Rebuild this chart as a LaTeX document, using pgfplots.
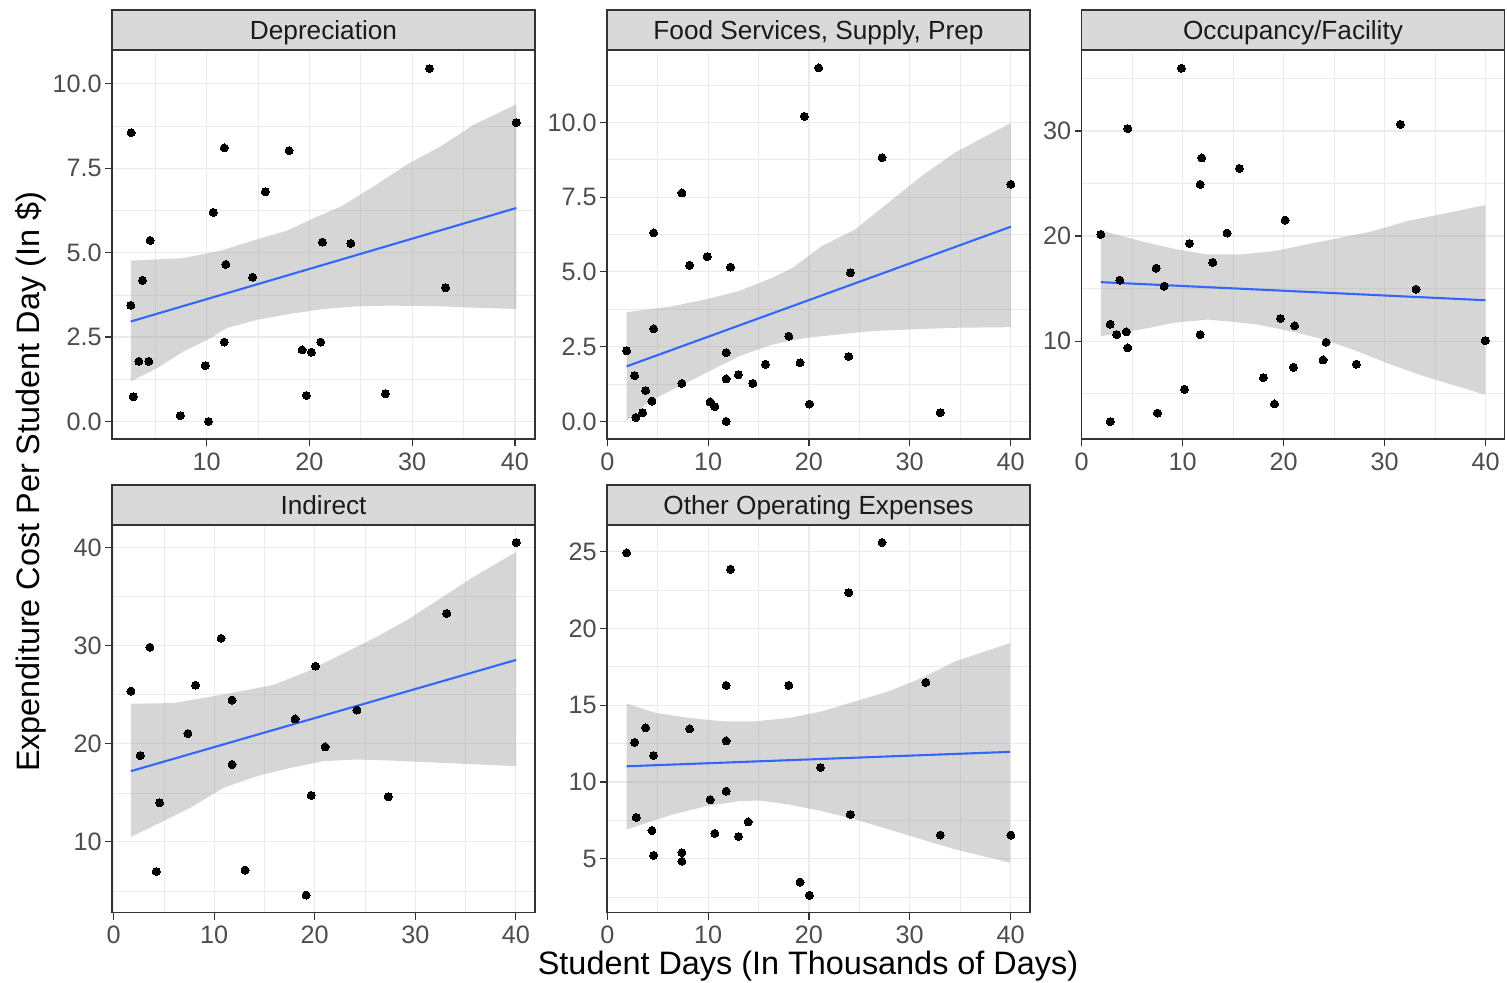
\documentclass[border=0pt]{standalone}
\usepackage{fontspec}
\setmainfont{Liberation Sans}
\usepackage{pgfplots}
\pgfplotsset{compat=1.18}
\definecolor{gtwenty}{HTML}{333333}
\definecolor{gninetytwo}{HTML}{EBEBEB}
\definecolor{gthirty}{HTML}{4D4D4D}
\definecolor{geightyfive}{HTML}{D9D9D9}
\definecolor{gten}{HTML}{1A1A1A}
\definecolor{gsixty}{HTML}{999999}
\definecolor{ggblue}{HTML}{3366FF}
\newcommand{\tickfont}{\fontsize{12.6}{15}\selectfont}
\newcommand{\stripfont}{\fontsize{13.1}{15}\selectfont}
\newcommand{\titlefont}{\fontsize{16.2}{19}\selectfont}
\pgfplotsset{
  facet/.style={
    scale only axis, width=211.5pt, anchor=south west,
    axis line style={color=gtwenty, line width=0.8pt},
    tick pos=left, tick align=outside,
    major tick length=3.5pt, minor tick length=0pt,
    tick style={color=gtwenty, line width=0.6pt},
    grid=both,
    major grid style={color=gninetytwo, line width=0.6pt},
    minor grid style={color=gninetytwo, line width=0.3pt},
    tick label style={color=gthirty, font=\tickfont},
    yticklabel style={inner sep=1.5pt},
    xticklabel style={inner sep=3pt},
    /pgf/number format/assume math mode=true,
    xtick={0,10,20,30,40}, minor xtick={5,15,25,35},
  },
  pts/.style={only marks, mark=*, mark size=2pt, mark options={fill=black, draw=black, line width=0pt}},
  band/.style={draw=none, fill=gsixty, fill opacity=0.4},
  fit/.style={color=ggblue, line width=1.05pt, no marks},
}
\tikzset{
  strip/.style={fill=geightyfive, draw=gtwenty, line width=0.8pt},
  striptext/.style={anchor=base, font=\stripfont, text=gten},
}
\begin{document}
\begin{tikzpicture}
\useasboundingbox (0,0) rectangle (753.5pt,491pt);

% ---------- Depreciation ----------
\begin{axis}[facet, name=p1, at={(56pt,271.5pt)}, height=194.5pt,
  xmin=0.8, xmax=41.95, ymin=-0.52, ymax=11.0,
  xtick={10,20,30,40},
  ytick={0,2.5,5,7.5,10}, yticklabels={0.0,2.5,5.0,7.5,10.0},
  minor ytick={1.25,3.75,6.25,8.75}]
\addplot[pts] coordinates {(2.66,8.55)(2.63,3.44)(3.77,4.18)(3.41,1.78)(4.38,1.78)(2.86,0.73)(4.51,5.36)(7.44,0.17)(9.87,1.65)(10.19,0.0)(10.65,6.19)(11.72,8.10)(11.88,4.65)(11.72,2.35)(14.48,4.27)(15.71,6.80)(18.02,8.02)(19.29,2.12)(20.19,2.05)(19.71,0.77)(21.1,2.35)(21.27,5.31)(24.03,5.27)(27.4,0.82)(31.69,10.45)(33.25,3.96)(40.13,8.85)};
\addplot[band] coordinates {(2.63,4.76)(7.8,4.84)(11.4,5.06)(14.9,5.39)(17.9,5.66)(20.5,6.03)(23.1,6.37)(26.3,6.97)(29.5,7.61)(32.8,8.15)(36.0,8.79)(40.13,9.39)
(40.13,3.33)(36.0,3.37)(32.8,3.41)(27.9,3.43)(24.7,3.41)(21.4,3.33)(18.2,3.19)(14.9,3.01)(12.0,2.77)(10.1,2.42)(7.8,2.08)(5.2,1.58)(2.63,1.19)};
\addplot[fit] coordinates {(2.63,2.96)(40.13,6.32)};
\end{axis}
\draw[strip] (p1.north west) rectangle ([yshift=20pt]p1.north east);
\node[striptext] at ([yshift=5.4pt]p1.north) {Depreciation};

% ---------- Food ----------
\begin{axis}[facet, name=p2, at={(303.5pt,271.5pt)}, height=194.5pt,
  xmin=-0.03, xmax=41.93, ymin=-0.59, ymax=12.42,
  ytick={0,2.5,5,7.5,10}, yticklabels={0.0,2.5,5.0,7.5,10.0},
  minor ytick={1.25,3.75,6.25,8.75,11.25}]
\addplot[pts] coordinates {(1.92,2.36)(2.71,1.53)(2.84,0.13)(3.50,0.29)(3.80,1.03)(4.43,0.68)(4.59,3.09)(4.59,6.30)(7.40,7.64)(7.40,1.27)(8.16,5.22)(9.91,5.51)(10.2,0.65)(10.67,0.49)(11.79,0.0)(11.79,1.42)(11.79,2.30)(12.22,5.16)(13.01,1.56)(14.43,1.27)(15.69,1.91)(18.0,2.85)(19.12,1.96)(19.55,10.2)(20.05,0.58)(20.97,11.82)(23.94,2.17)(24.11,4.97)(27.25,8.82)(33.03,0.29)(40.03,7.93)};
\addplot[band] coordinates {(1.92,3.65)(6.47,3.85)(9.78,4.08)(13.08,4.36)(16.38,4.80)(18.4,5.14)(21.3,5.87)(24.6,6.42)(27.9,7.32)(31.2,8.21)(34.5,8.99)(40.03,9.98)
(40.03,3.15)(34.5,3.13)(29.6,3.07)(26.3,3.02)(23,2.91)(19.7,2.79)(16.38,2.57)(13.08,2.18)(9.78,1.62)(6.47,1.06)(4.16,0.67)(1.92,0.03)};
\addplot[fit] coordinates {(1.92,1.84)(40.03,6.51)};
\end{axis}
\draw[strip] (p2.north west) rectangle ([yshift=20pt]p2.north east);
\node[striptext] at ([yshift=5.4pt]p2.north) {Food Services, Supply, Prep};

% ---------- Occupancy ----------
\begin{axis}[facet, name=p3, at={(540.75pt,271.5pt)}, height=194.5pt,
  xmin=0.0, xmax=41.86, ymin=0.7, ymax=37.7,
  ytick={10,20,30}, minor ytick={5,15,25,35}]
\addplot[pts] coordinates {(1.91,20.16)(2.84,11.62)(2.84,2.35)(3.49,10.63)(3.79,15.81)(4.42,10.89)(4.58,9.37)(4.58,30.22)(7.39,16.95)(7.52,3.17)(8.18,15.24)(9.89,35.97)(10.19,5.43)(10.68,19.30)(11.74,10.63)(11.74,24.92)(11.9,27.43)(12.99,17.49)(14.41,20.29)(15.63,26.44)(18.0,6.54)(19.09,4.03)(19.68,12.16)(20.15,21.52)(20.97,7.52)(21.1,11.46)(23.9,8.22)(24.2,9.90)(27.2,7.81)(31.55,30.63)(33.1,14.95)(39.96,10.06)};
\addplot[band] coordinates {(1.91,20.54)(5.84,19.52)(9.13,18.79)(12.43,18.25)(15.73,18.25)(19.02,18.57)(22.3,19.21)(25.6,19.84)(28.9,20.48)(32.2,21.43)(35.5,22.06)(39.96,22.95)
(39.96,4.92)(37.2,5.71)(33.9,6.67)(30.6,7.78)(27.3,9.05)(24,10.16)(20.7,10.95)(17.4,11.59)(14.4,11.9)(12.43,12.06)(9.13,11.75)(5.84,11.11)(1.91,10.48)};
\addplot[fit] coordinates {(1.91,15.62)(39.96,13.90)};
\end{axis}
\draw[strip] (p3.north west) rectangle ([yshift=20pt]p3.north east);
\node[striptext] at ([yshift=5.4pt]p3.north) {Occupancy/Facility};

% ---------- Indirect ----------
\begin{axis}[facet, name=p4, at={(56pt,34.75pt)}, height=193.75pt,
  xmin=-0.15, xmax=41.9, ymin=2.8, ymax=42.3,
  ytick={10,20,30,40}, minor ytick={5,15,25,35}]
\addplot[pts] coordinates {(1.73,25.37)(2.66,18.80)(3.62,29.84)(4.25,6.98)(4.58,13.99)(7.40,21.04)(8.16,25.98)(10.69,30.75)(11.78,24.46)(11.78,17.89)(13.08,7.12)(18.05,22.53)(19.15,4.58)(19.65,14.74)(20.08,27.91)(21.04,19.68)(24.19,23.44)(27.31,14.6)(33.12,33.29)(40.03,40.51)};
\addplot[band] coordinates {(1.73,24.08)(5.97,24.15)(9.29,24.73)(12.6,25.34)(15.93,26.01)(19.25,27.37)(22.57,29.06)(25.9,30.76)(29.2,32.62)(32.5,34.82)(35.8,37.02)(40.03,39.56)
(40.03,17.72)(32.5,18.06)(27.5,18.29)(24.2,18.4)(20.9,18.23)(17.6,17.55)(14.27,16.7)(10.95,15.52)(7.63,13.48)(4.31,11.79)(1.73,10.5)};
\addplot[fit] coordinates {(1.73,17.21)(40.03,28.55)};
\end{axis}
\draw[strip] (p4.north west) rectangle ([yshift=20pt]p4.north east);
\node[striptext] at ([yshift=5.4pt]p4.north) {Indirect};

% ---------- Other Operating ----------
\begin{axis}[facet, name=p5, at={(303.5pt,34.75pt)}, height=193.75pt,
  xmin=-0.03, xmax=41.93, ymin=1.5, ymax=26.73,
  ytick={5,10,15,20,25}, minor ytick={2.5,7.5,12.5,17.5,22.5}]
\addplot[pts] coordinates {(1.92,24.91)(2.71,12.58)(2.87,7.69)(3.80,13.52)(4.43,6.84)(4.59,11.72)(4.59,5.22)(7.40,5.39)(7.40,4.83)(8.16,13.45)(10.2,8.84)(10.67,6.65)(11.79,16.29)(11.79,12.67)(11.79,9.40)(12.22,23.85)(13.01,6.45)(13.97,7.40)(18.0,16.29)(19.12,3.48)(20.05,2.62)(21.14,10.94)(23.94,22.33)(24.11,7.88)(27.25,25.59)(31.6,16.48)(33.03,6.54)(40.03,6.54)};
\addplot[band] coordinates {(1.92,15.1)(4.82,14.49)(8.12,14.17)(11.43,13.95)(14.73,13.95)(18.03,14.17)(21.3,14.6)(24.6,15.25)(27.9,15.9)(31.2,16.77)(34.5,17.85)(39.96,19.04)
(39.96,4.74)(34.5,5.61)(31.2,6.26)(27.9,6.91)(24.6,7.56)(21.3,8.1)(18.03,8.53)(15.06,8.79)(13.08,8.75)(9.78,8.42)(6.47,7.88)(1.92,6.91)};
\addplot[fit] coordinates {(1.92,11.02)(39.96,11.96)};
\end{axis}
\draw[strip] (p5.north west) rectangle ([yshift=20pt]p5.north east);
\node[striptext] at ([yshift=5.4pt]p5.north) {Other Operating Expenses};

% ---------- axis titles ----------
\node[anchor=base, font=\titlefont] at (404pt,4pt) {Student Days (In Thousands of Days)};
\node[anchor=base, rotate=90, font=\titlefont] at (19.7pt,250pt) {Expenditure Cost Per Student Day (In \$)};
\end{tikzpicture}
\end{document}
